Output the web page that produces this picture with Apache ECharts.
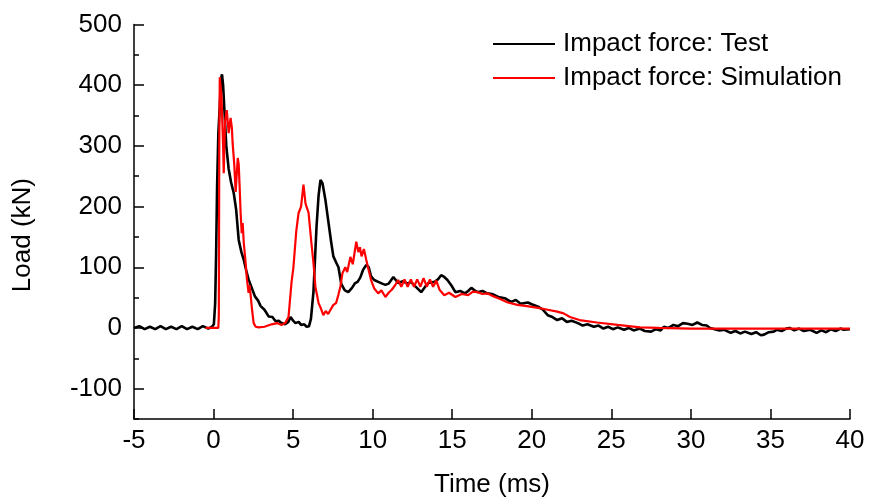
<!DOCTYPE html>
<html>
<head>
<meta charset="utf-8">
<script src="https://cdn.jsdelivr.net/npm/echarts@6/dist/echarts.min.js"></script>
<style>html,body{margin:0;padding:0;background:#fff;}#c{width:870px;height:504px;}</style>
</head>
<body>
<div id="c"></div>
<script>
const seriesNames = ['Impact force: Test', 'Impact force: Simulation'];
const xTicks = [-5, 0, 5, 10, 15, 20, 25, 30, 35, 40];
const yTickLabels = [-100, 0, 100, 200, 300, 400, 500];
const yMinorTicks = [-150, -50, 50, 150, 250, 350, 450];

const testTime = [-5,-4.67,-4.33,-4,-3.67,-3.33,-3,-2.67,-2.33,-2,-1.67,-1.33,-1,-0.67,-0.33,-0.1,0.02,0.1,0.16,0.22,0.3,0.39,0.47,0.53,0.6,0.7,0.8,0.95,1.1,1.27,1.42,1.58,1.75,1.9,2.05,2.2,2.4,2.6,2.8,2.96,3.2,3.46,3.7,3.9,4.1,4.27,4.5,4.7,4.84,5.0,5.15,5.35,5.5,5.7,5.85,6.0,6.12,6.28,6.47,6.6,6.72,6.85,7.03,7.2,7.4,7.53,7.72,7.85,8.03,8.25,8.47,8.7,8.9,9.05,9.22,9.4,9.6,9.75,9.9,10.1,10.35,10.6,10.8,11.0,11.3,11.45,11.6,11.9,12.2,12.4,12.7,13.05,13.3,13.5,13.9,14.1,14.3,14.5,14.7,14.95,15.2,15.5,15.8,16.0,16.2,16.4,16.6,16.9,17.2,17.5,17.9,18.3,18.7,19.0,19.3,19.75,20.0,20.4,20.7,21.0,21.3,21.6,21.9,22.2,22.5,22.9,23.2,23.5,23.9,24.2,24.5,24.8,25.1,25.4,25.8,26.1,26.4,26.8,27.1,27.5,27.8,28.1,28.3,28.6,28.9,29.2,29.5,29.8,30.1,30.4,30.7,31.0,31.2,31.5,31.8,32.1,32.5,32.8,33.1,33.4,33.8,34.1,34.4,34.6,34.9,35.2,35.4,35.7,36.0,36.2,36.5,36.8,37.1,37.5,37.9,38.2,38.5,38.8,39.1,39.4,39.6,40];
const testLoad = [0,3,-2,2,-2,3,-2,2,-2,3,-2,2,-2,3,-1,2,6,40,120,230,320,365,410,418,400,350,300,262,240,222,195,145,125,112,95,80,66,52,45,36,30,19,18,11,12,8,6,10,18,12,8,10,5,6,2,3,15,60,166,218,244,238,211,178,140,118,107,100,72,62,59,66,74,76,83,96,104,100,85,79,76,73,71,73,84,79,74,77,73,76,68,59,68,74,76,80,87,84,79,70,59,61,57,61,66,62,59,61,57,56,51,49,43,46,40,42,39,35,30,21,18,13,16,10,12,8,4,6,2,4,-1,2,-2,1,-3,0,-4,-1,-5,-6,-2,-4,2,0,5,3,8,7,5,9,5,4,0,-2,-4,-3,-8,-5,-9,-6,-10,-7,-12,-11,-7,-6,-3,-5,-1,0,-4,-1,-5,-3,-8,-4,-7,-2,-5,-1,-3,-2];

const simTime = [-0.5,0,0.3,0.33,0.36,0.39,0.5,0.6,0.64,0.72,0.83,0.95,1.07,1.15,1.2,1.3,1.39,1.45,1.52,1.58,1.64,1.7,1.77,1.83,1.9,2.0,2.1,2.2,2.27,2.33,2.42,2.52,2.65,2.83,3.2,3.65,4.0,4.27,4.5,4.71,4.9,5.02,5.2,5.34,5.5,5.65,5.78,5.97,6.15,6.28,6.4,6.6,6.75,6.9,7.05,7.2,7.35,7.53,7.7,7.85,7.97,8.1,8.28,8.4,8.6,8.75,8.97,9.1,9.2,9.3,9.45,9.6,9.75,9.9,10.1,10.35,10.55,10.8,11.0,11.2,11.4,11.6,11.8,12.0,12.2,12.4,12.6,12.8,13.0,13.2,13.4,13.6,13.8,14.0,14.2,14.5,14.8,15.2,15.6,16.0,16.3,16.6,16.9,17.2,17.6,17.9,18.5,19.1,19.7,20.4,21.0,21.6,22.0,22.4,23.0,24.1,25.4,26.8,28,30,35,40];
const simLoad = [0,0,0,20,300,413,380,300,255,340,359,321,346,330,304,270,224,250,280,270,232,190,156,173,140,112,80,58,70,68,30,8,2,1,2,6,8,5,8,18,75,100,160,189,200,236,205,190,140,107,68,41,32,21,28,23,30,38,41,55,68,90,100,92,117,105,142,125,133,118,130,112,95,79,65,57,62,51,58,63,70,79,68,80,68,80,68,80,68,82,68,80,68,78,63,54,58,51,56,54,60,59,56,57,52,49,42,38,36,33,30,27,24,18,13,9,5,1,0,-1,-1,-1];

const zip = (a, b) => a.map((t, i) => [t, b[i]]);
const FONT = "'Liberation Sans', Arial, sans-serif";

const chart = echarts.init(document.getElementById('c'), null, {renderer: 'canvas'});
chart.setOption({
  animation: false,
  backgroundColor: '#fff',
  grid: {left: 134, right: 20, top: 24.5, bottom: 85, containLabel: false},
  legend: {
    orient: 'vertical', left: 488, top: 24, padding: 5,
    itemWidth: 62, itemHeight: 2, itemGap: 4, icon: 'rect',
    textStyle: {fontFamily: FONT, fontSize: 26, color: '#000', lineHeight: 30, padding: [0,0,0,3]},
    data: seriesNames
  },
  xAxis: {
    type: 'value', min: -5, max: 40, interval: 5,
    name: 'Time (ms)', nameLocation: 'middle', nameGap: 53,
    nameTextStyle: {fontFamily: FONT, fontSize: 26, color: '#000'},
    axisLine: {onZero: false, lineStyle: {color: '#000', width: 1.5}},
    axisTick: {inside: true, length: 10, lineStyle: {color: '#000', width: 1.5}},
    axisLabel: {fontFamily: FONT, fontSize: 26, color: '#000', margin: 9,
      customValues: xTicks},
    splitLine: {show: false}
  },
  yAxis: [{
    type: 'value', min: -150, max: 500, interval: 50,
    axisLine: {show: true, onZero: false, lineStyle: {color: '#000', width: 1.5}},
    axisTick: {show: true, inside: true, length: 10, customValues: yTickLabels, lineStyle: {color: '#000', width: 1.5}},
    axisLabel: {fontFamily: FONT, fontSize: 26, color: '#000', margin: 12, customValues: yTickLabels},
    splitLine: {show: false}
  }, {
    type: 'value', min: -150, max: 500, interval: 50, position: 'left',
    axisLine: {show: false, onZero: false},
    axisTick: {show: true, inside: true, length: 5, customValues: yMinorTicks, lineStyle: {color: '#000', width: 1.5}},
    axisLabel: {show: false},
    splitLine: {show: false}
  }],
  graphic: [{
    type: 'text', left: 10, top: 178, rotation: Math.PI / 2,
    style: {text: 'Load (kN)', fontFamily: FONT, fontSize: 26, fill: '#000', align: 'center', verticalAlign: 'middle'}
  }],
  series: [{
    name: seriesNames[0], type: 'line', data: zip(testTime, testLoad),
    symbol: 'none', color: '#000', lineStyle: {color: '#000', width: 2.6}, z: 2
  }, {
    name: seriesNames[1], type: 'line', data: zip(simTime, simLoad),
    symbol: 'none', color: '#ff0000', lineStyle: {color: '#ff0000', width: 2.2}, z: 3
  }]
});
</script>
</body>
</html>
